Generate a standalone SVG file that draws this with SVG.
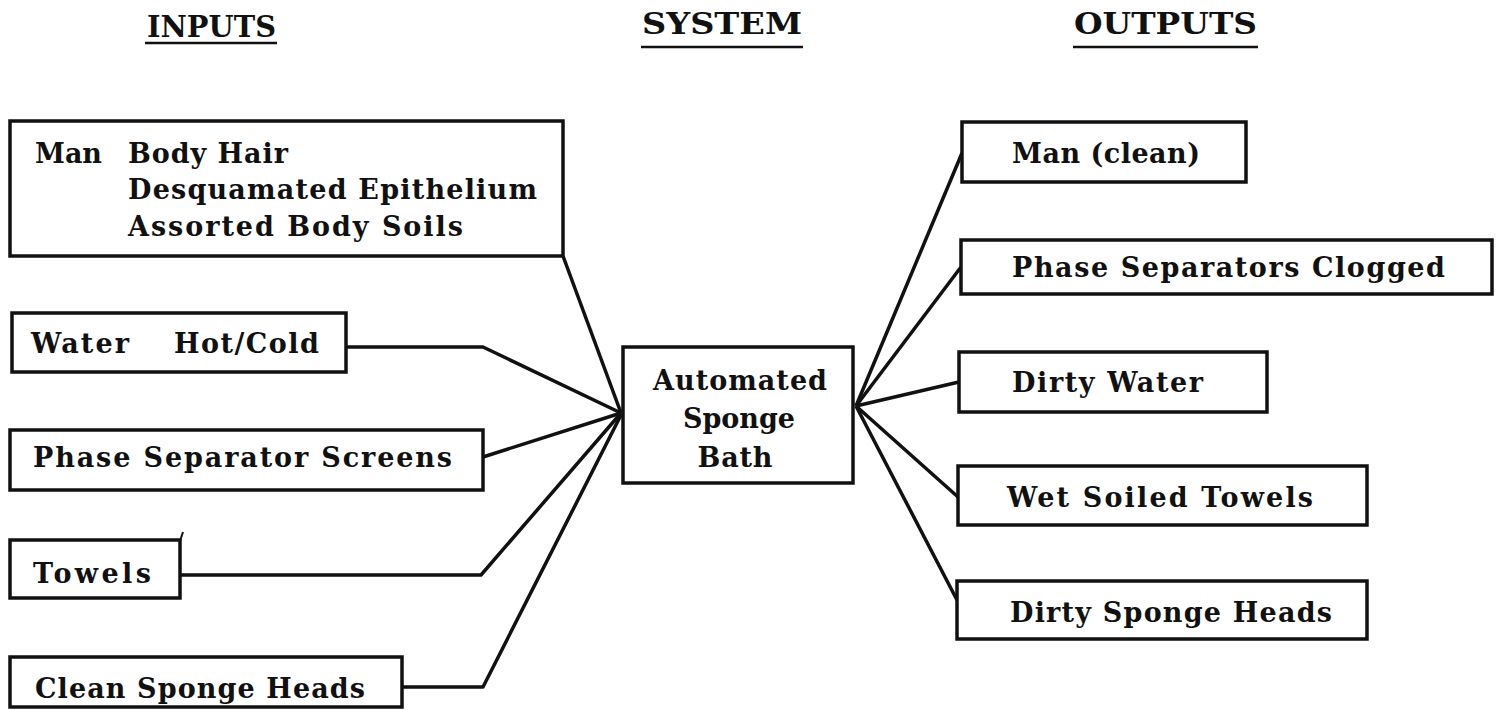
<svg xmlns="http://www.w3.org/2000/svg" width="1499" height="710" viewBox="0 0 1499 710">
  <style>
    .box { fill: #ffffff; stroke: #111111; stroke-width: 3.5; }
    .lbl { font-family: "DejaVu Serif", "Liberation Serif", serif; font-size: 27px; font-weight: bold; fill: #111111; }
    .mid { text-anchor: middle; }
    .hdr { font-family: "DejaVu Serif", "Liberation Serif", serif; font-size: 29px; font-weight: bold; fill: #111111; }
    .ul { stroke: #111111; stroke-width: 2.5; }
    .wire { fill: none; stroke: #111111; stroke-width: 3.5; stroke-linejoin: round; }
  </style>
  <rect x="0" y="0" width="1499" height="710" fill="#ffffff"/>

  <!-- column headings -->
  <g id="headings">
    <text class="hdr" x="147" y="37" textLength="129" lengthAdjust="spacingAndGlyphs">INPUTS</text>
    <line class="ul" x1="145" y1="43" x2="277" y2="43"/>
    <text class="hdr" x="642" y="34" textLength="160" lengthAdjust="spacingAndGlyphs">SYSTEM</text>
    <line class="ul" x1="641" y1="47" x2="803" y2="47"/>
    <text class="hdr" x="1074" y="34" textLength="183" lengthAdjust="spacingAndGlyphs">OUTPUTS</text>
    <line class="ul" x1="1073" y1="47" x2="1258" y2="47"/>
  </g>

  <!-- connectors: inputs fan in to the left side, outputs fan out from the right side -->
  <g id="connectors">
    <polyline class="wire" points="563,256 621,413"/>
    <polyline class="wire" points="346,347 483,347 621,413"/>
    <polyline class="wire" points="483,457 621,413"/>
    <polyline class="wire" points="180,575 481,575 621,413"/>
    <polyline class="wire" points="402,687 483,687 621,415"/>
    <polyline class="wire" points="856,406 962,153"/>
    <polyline class="wire" points="856,406 961,267"/>
    <polyline class="wire" points="856,406 959,382"/>
    <polyline class="wire" points="856,406 958,497"/>
    <polyline class="wire" points="856,406 957,600"/>
  </g>

  <!-- inputs -->
  <g id="in-man">
    <rect class="box" x="10" y="121" width="553" height="135"/>
    <text class="lbl" x="35" y="163" textLength="67">Man</text>
    <text class="lbl" x="128" y="163" textLength="160">Body Hair</text>
    <text class="lbl" x="128" y="199" textLength="409">Desquamated Epithelium</text>
    <text class="lbl" x="128" y="236" textLength="335">Assorted Body Soils</text>
  </g>
  <g id="in-water">
    <rect class="box" x="12" y="313" width="334" height="59"/>
    <text class="lbl" x="31" y="353" textLength="98">Water</text>
    <text class="lbl" x="174" y="353" textLength="145">Hot/Cold</text>
  </g>
  <g id="in-screens">
    <rect class="box" x="10" y="430" width="473" height="60"/>
    <text class="lbl" x="33" y="467" textLength="419">Phase Separator Screens</text>
  </g>
  <g id="in-towels">
    <rect class="box" x="10" y="540" width="170" height="58"/>
    <line x1="180" y1="541" x2="183" y2="532" stroke="#111111" stroke-width="2"/>
    <text class="lbl" x="33" y="583" textLength="118">Towels</text>
  </g>
  <g id="in-sponges">
    <rect class="box" x="10" y="657" width="392" height="50"/>
    <text class="lbl" x="35" y="698" textLength="330">Clean Sponge Heads</text>
  </g>

  <!-- system -->
  <g id="system">
    <rect class="box" x="623" y="347" width="230" height="136"/>
    <text class="lbl mid" x="740" y="390" textLength="174">Automated</text>
    <text class="lbl mid" x="739" y="428" textLength="112">Sponge</text>
    <text class="lbl mid" x="735" y="467" textLength="75">Bath</text>
  </g>

  <!-- outputs -->
  <g id="out-man">
    <rect class="box" x="962" y="122" width="284" height="60"/>
    <text class="lbl" x="1012" y="163" textLength="188">Man (clean)</text>
  </g>
  <g id="out-separators">
    <rect class="box" x="961" y="240" width="531" height="54"/>
    <text class="lbl" x="1012" y="277" textLength="433">Phase Separators Clogged</text>
  </g>
  <g id="out-water">
    <rect class="box" x="959" y="352" width="308" height="60"/>
    <text class="lbl" x="1012" y="392" textLength="191">Dirty Water</text>
  </g>
  <g id="out-towels">
    <rect class="box" x="958" y="466" width="409" height="59"/>
    <text class="lbl" x="1007" y="507" textLength="306">Wet Soiled Towels</text>
  </g>
  <g id="out-sponges">
    <rect class="box" x="957" y="581" width="410" height="58"/>
    <text class="lbl" x="1010" y="622" textLength="322">Dirty Sponge Heads</text>
  </g>
</svg>
